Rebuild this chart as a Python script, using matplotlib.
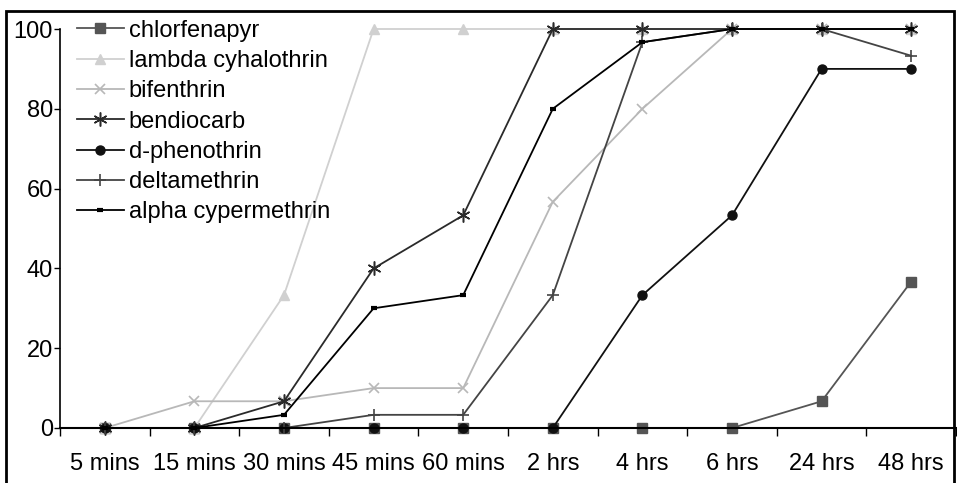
import numpy as np
import matplotlib.pyplot as plt
from matplotlib.patches import Rectangle

plt.rcParams['font.family'] = ['Liberation Sans', 'DejaVu Sans']

times = ['5 mins', '15 mins', '30 mins', '45 mins', '60 mins',
         '2 hrs', '4 hrs', '6 hrs', '24 hrs', '48 hrs']

chlorfenapyr = [0, 0, 0, 0, 0, 0, 0, 0, 6.7, 36.7]
lambda_cyhalothrin = [0, 0, 33.3, 100, 100, 100, 100, 100, 100, 100]
bifenthrin = [0, 6.7, 6.7, 10, 10, 56.7, 80, 100, 100, 100]
bendiocarb = [0, 0, 6.7, 40, 53.3, 100, 100, 100, 100, 100]
d_phenothrin = [0, 0, 0, 0, 0, 0, 33.3, 53.3, 90, 90]
deltamethrin = [0, 0, 0, 3.3, 3.3, 33.3, 96.7, 100, 100, 93.3]
alpha_cypermethrin = [0, 0, 3.3, 30, 33.3, 80, 96.7, 100, 100, 100]

fig = plt.figure(figsize=(9.57, 4.83), dpi=100)
ax = fig.add_axes([60/957, 55/483, 896/957, 399/483])
x = np.arange(len(times))

# series: (label, data, colour, marker, size, extra)
series = [
    ('chlorfenapyr', chlorfenapyr, '#555555', 's', 6.5, {}),
    ('lambda cyhalothrin', lambda_cyhalothrin, '#d0d0d0', '^', 7, {}),
    ('bifenthrin', bifenthrin, '#b8b8b8', 'x', 7, {'markeredgewidth': 1.2}),
    ('bendiocarb', bendiocarb, '#2a2a2a', (6, 2, 0), 10, {'markeredgewidth': 1.1}),
    ('d-phenothrin', d_phenothrin, '#111111', 'o', 6.5, {}),
    ('deltamethrin', deltamethrin, '#444444', '+', 9, {'markeredgewidth': 1.2}),
    ('alpha cypermethrin', alpha_cypermethrin, '#000000', '_', 5, {'markeredgewidth': 3}),
]
for lab, y, c, m, ms, kw in series:
    ax.plot(x, y, color=c, marker=m, markersize=ms, linewidth=1.3,
            label=lab, clip_on=False, **kw)

ax.set_xlim(-0.5, 9.5)
ax.set_ylim(0, 100)
ax.set_yticks(range(0, 101, 20))
ax.set_xticks(np.arange(-0.5, 9.6, 1))
ax.set_xticklabels([])
ax.set_xticks(x, minor=True)
ax.set_xticklabels(times, minor=True)
ax.tick_params(axis='x', which='major', length=6, width=1, direction='out')
ax.tick_params(axis='x', which='minor', length=0, pad=18, labelsize=17)
ax.tick_params(axis='y', length=4, width=1, labelsize=17, pad=1)
for s in ['top', 'right']:
    ax.spines[s].set_visible(False)
ax.spines['left'].set_linewidth(1.2)
ax.spines['bottom'].set_linewidth(1.5)

leg = ax.legend(loc='upper left', bbox_to_anchor=(72/957, 1 - 15/483),
                bbox_transform=fig.transFigure, frameon=False,
                fontsize=17, handlelength=2.0, handletextpad=0.2,
                labelspacing=0.35, borderaxespad=0, borderpad=0.2)

fig.patches.append(Rectangle((6/957, -0.05), 948/957, 1.05 - 11/483,
                             transform=fig.transFigure, fill=False,
                             edgecolor='black', linewidth=2))

fig.savefig('out.png', dpi=100)
